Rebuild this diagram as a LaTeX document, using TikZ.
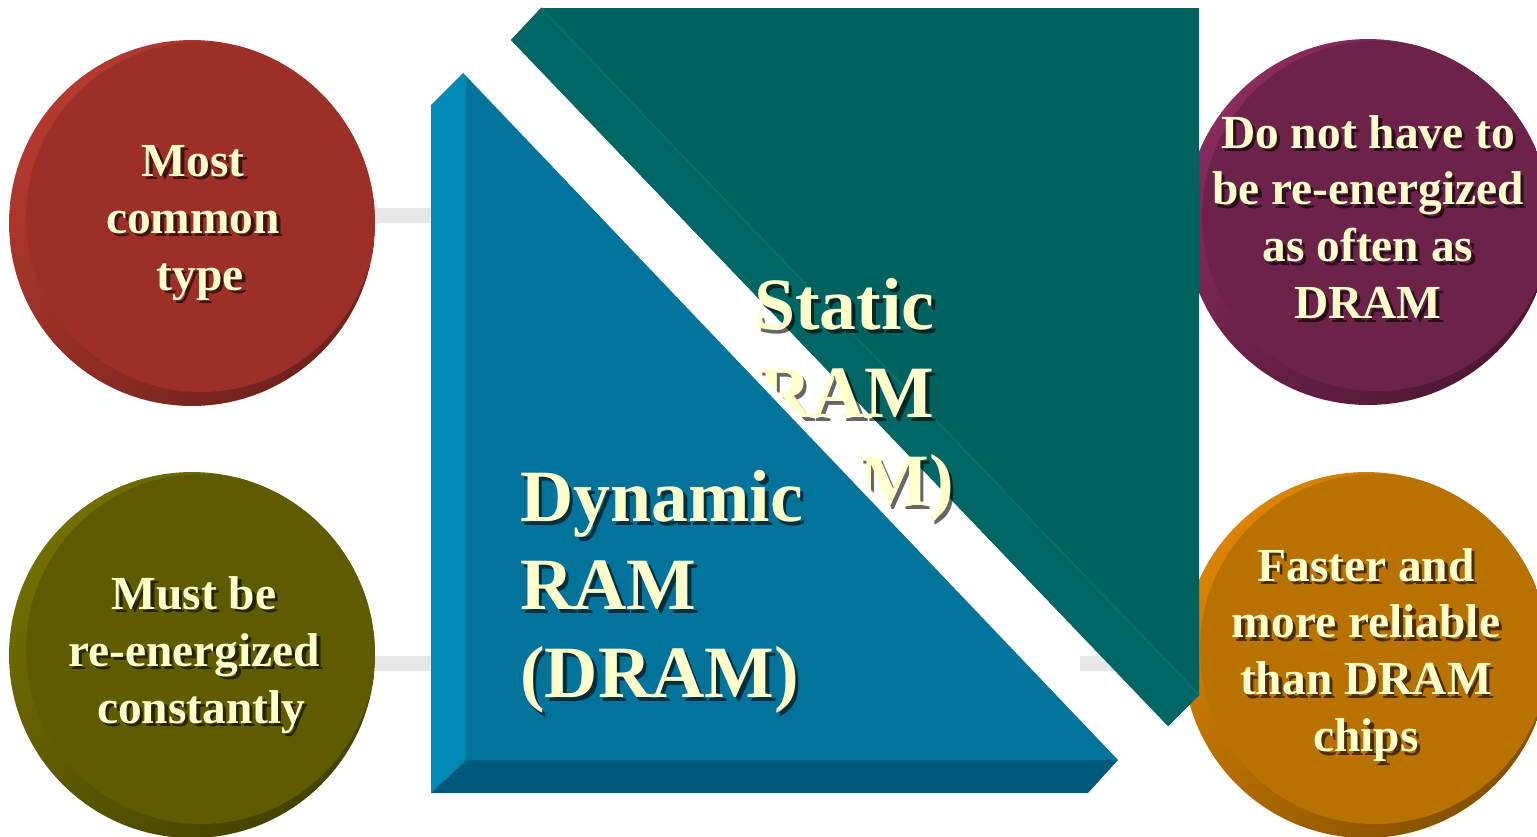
\documentclass[tikz,border=0pt]{standalone}
\usepackage{fontspec}
\setmainfont{Liberation Serif}

\definecolor{cream}{HTML}{FFFFCC}
\definecolor{stubgray}{HTML}{E6E6E6}
\definecolor{tealface}{HTML}{00625F}
\definecolor{tealbevel}{HTML}{006663}
\definecolor{tealedge}{HTML}{00716D}
\definecolor{blueface}{HTML}{00739B}
\definecolor{bluelight}{HTML}{0088B4}
\definecolor{bluedark}{HTML}{005B7B}
\definecolor{redrim}{HTML}{B5392F}
\definecolor{redface}{HTML}{9C3029}
\definecolor{oliverim}{HTML}{726E00}
\definecolor{oliveface}{HTML}{5F5C00}
\definecolor{plumrim}{HTML}{882B5D}
\definecolor{plumface}{HTML}{6D2249}
\definecolor{amberrim}{HTML}{DB8400}
\definecolor{amberface}{HTML}{B97100}

\begin{document}
\begin{tikzpicture}[x=0.02cm, y=-0.02cm,
  coin/.style 2 args={circle, minimum size=7.32cm, inner sep=0pt,
    top color=#1, bottom color=#2!72!black, shading angle=45,
    path picture={\fill[#2] ([xshift=0.18cm, yshift=0.12cm]path picture bounding box.center) circle (3.5cm);}},
  words/.style={text=cream, align=center, inner sep=0pt, font=\bfseries\fontsize{27}{32.4}\selectfont},
  heading/.style={words, font=\bfseries\fontsize{42}{50}\selectfont},
  shadowed/.style={text=black, text opacity=0.6, xshift=0.07cm, yshift=-0.07cm},
  stub/.style={stubgray, line width=0.3cm}
]
\useasboundingbox (0,0) rectangle (1537,836);
\clip (0,0) rectangle (1537,836);
\fill[white] (0,0) rectangle (1537,836);

% the four discs
\node[coin={redrim}{redface}] (common) at (192,223) {};
\node[coin={oliverim}{oliveface}] (energized) at (192,655) {};
\node[coin={plumrim}{plumface}] (seldom) at (1368,222) {};
\node[coin={amberrim}{amberface}] (faster) at (1366,655) {};

\coordinate (dtop) at (431,215);
\coordinate (dbot) at (431,663);
\coordinate (sbot) at (1080,663);
\draw[stub] (dtop -| common.east) -- (dtop);
\draw[stub] (dbot -| energized.east) -- (dbot);
\draw[stub] (sbot) -- (sbot -| faster.west);

% static RAM block
\fill[tealface] (511,40) -- (541,8) -- (1199,8) -- (1199,695) -- (1168,726) -- cycle;
\fill[tealbevel] (511,40) -- (541,8) -- (1199,695) -- (1168,726) -- cycle;
\draw[tealedge, line width=0.04cm] (541,8) -- (1199,695);

\node[heading, shadowed, align=right, anchor=east] (sram-sh) at (954,400) {Static\kern0.26em\\RAM\kern0.26em\\(SRAM)};
\node[heading, align=right, anchor=east] (sram) at (954,400) {Static\kern0.26em\\RAM\kern0.26em\\(SRAM)};

% dynamic RAM block
\draw[white, line width=0.3cm] (463,73) -- (1118,760);
\fill[bluelight] (431,105) -- (463,73) -- (466,76) -- (466,760) -- (431,793) -- cycle;
\fill[bluedark] (431,793) -- (466,760) -- (1118,760) -- (1088,793) -- cycle;
\fill[blueface] (466,76) -- (1118,760) -- (466,760) -- cycle;

\node[heading, shadowed, align=left, anchor=west] (dram-sh) at (520,592) {Dynamic\\RAM\\(DRAM)};
\node[heading, align=left, anchor=west] (dram) at (520,592) {Dynamic\\RAM\\(DRAM)};

% disc texts
\node[words, shadowed] (common-sh) at (193,223) {Most\\common\\\kern0.3em type};
\node[words] (common-text) at (193,223) {Most\\common\\\kern0.3em type};
\node[words, shadowed] (energized-sh) at (194,655) {Must be\\re-energized\\\kern0.3em constantly};
\node[words] (energized-text) at (194,655) {Must be\\re-energized\\\kern0.3em constantly};
\node[words, shadowed] (seldom-sh) at (1368,217) {Do not have to\\be re-energized\\as often as\\DRAM};
\node[words] (seldom-text) at (1368,217) {Do not have to\\be re-energized\\as often as\\DRAM};
\node[words, shadowed] (faster-sh) at (faster) {Faster and\\more reliable\\than DRAM\\chips};
\node[words] (faster-text) at (faster) {Faster and\\more reliable\\than DRAM\\chips};
\end{tikzpicture}
\end{document}
